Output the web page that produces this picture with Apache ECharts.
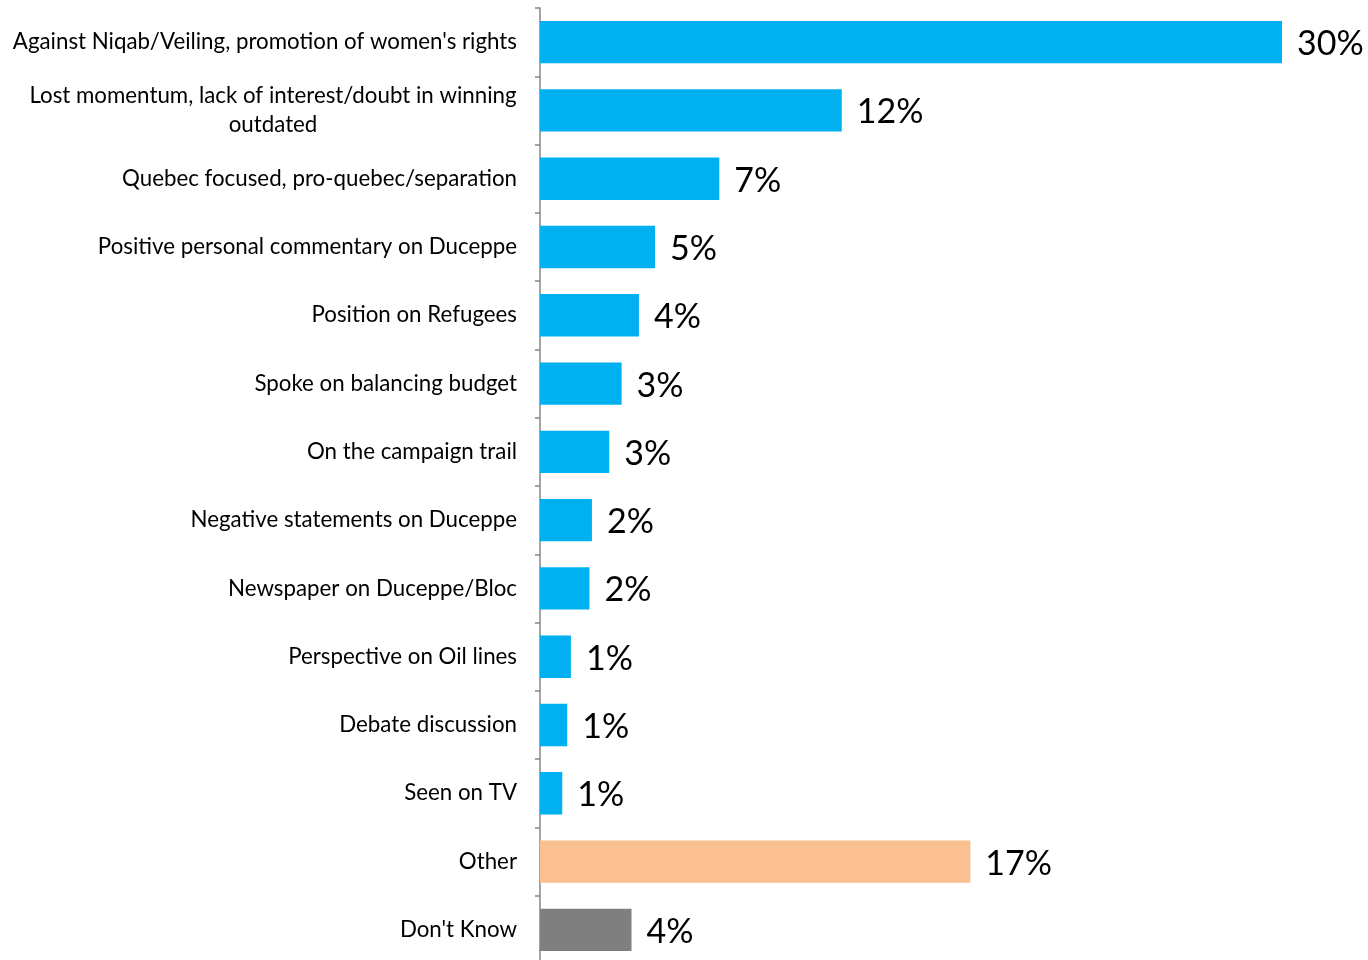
<!DOCTYPE html>
<html>
<head>
<meta charset="utf-8">
<script src="https://cdn.jsdelivr.net/npm/echarts@6/dist/echarts.min.js"></script>
<style>
html,body{margin:0;padding:0;background:#fff;}
#chart{width:1368px;height:960px;}
</style>
</head>
<body>
<div id="chart"></div>
<script>
const categories = [
  "Against Niqab/Veiling, promotion of women's rights",
  "Lost momentum, lack of interest/doubt in winning\noutdated",
  "Quebec focused, pro-quebec/separation",
  "Positive personal commentary on Duceppe",
  "Position on Refugees",
  "Spoke on balancing budget",
  "On the campaign trail",
  "Negative statements on Duceppe",
  "Newspaper on Duceppe/Bloc",
  "Perspective on Oil lines",
  "Debate discussion",
  "Seen on TV",
  "Other",
  "Don't Know"
];
const values = [30.0, 12.2, 7.25, 4.65, 4.0, 3.3, 2.8, 2.1, 2.0, 1.25, 1.1, 0.9, 17.4, 3.7];
const barColors = ["#00B0F0","#00B0F0","#00B0F0","#00B0F0","#00B0F0","#00B0F0","#00B0F0","#00B0F0","#00B0F0","#00B0F0","#00B0F0","#00B0F0","#FAC090","#7F7F7F"];

const FONT = "Lato";
const catFontSize = 22.3;
const ctx = document.createElement('canvas').getContext('2d');
ctx.font = catFontSize + 'px ' + FONT;

const chart = echarts.init(document.getElementById('chart'), null, {renderer: 'canvas'});
chart.setOption({
  backgroundColor: '#fff',
  animation: false,
  grid: {left: 540, width: 742, top: 8, height: 956, containLabel: false, outerBoundsMode: 'none'},
  xAxis: {
    type: 'value', min: 0, max: 30, show: false
  },
  yAxis: {
    type: 'category',
    inverse: true,
    data: categories,
    axisLine: {show: true, lineStyle: {color: '#868686', width: 1.5}},
    axisTick: {show: true, length: 5, lineStyle: {color: '#868686', width: 1.5}},
    axisLabel: {
      margin: 23,
      color: '#000',
      fontFamily: FONT,
      fontSize: catFontSize,
      lineHeight: 29,
      formatter: function (v) {
        if (v.indexOf('\n') >= 0) {
          return v.split('\n').map(l => '{c|' + l + '}').join('\n');
        }
        return v;
      },
      rich: {
        c: {
          width: Math.ceil(ctx.measureText("Lost momentum, lack of interest/doubt in winning").width),
          align: 'center',
          fontFamily: FONT,
          fontSize: catFontSize,
          lineHeight: 29,
          color: '#000'
        }
      }
    }
  },
  series: [{
    type: 'bar',
    data: values.map((v, i) => ({value: v, itemStyle: {color: barColors[i]}})),
    barCategoryGap: '38%',
    label: {
      show: true,
      position: 'right',
      distance: 15,
      color: '#000',
      fontFamily: FONT,
      fontSize: 34,
      offset: [0, 2],
      formatter: p => Math.round(p.value) + '%'
    }
  }]
});
</script>
</body>
</html>
